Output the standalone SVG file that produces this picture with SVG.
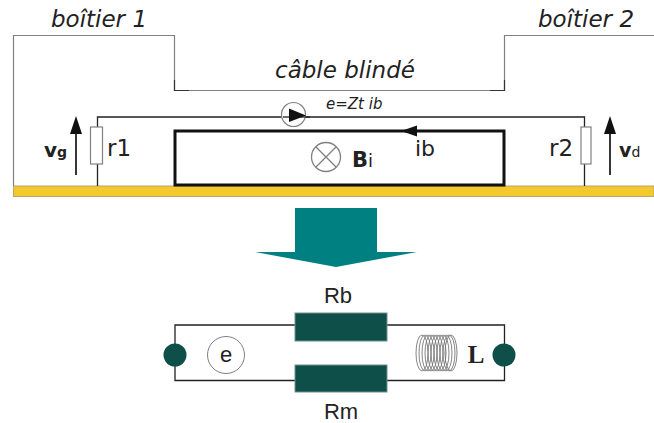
<svg xmlns="http://www.w3.org/2000/svg" width="654" height="423" viewBox="0 0 654 423">
<defs>
<style>
.thin{fill:none;stroke:#808080;stroke-width:1.2}
.w{fill:none;stroke:#222;stroke-width:1.3}
.res{fill:#fff;stroke:#808080;stroke-width:1.2}
.dark{fill:#0f4f49;stroke:#6f8f8c;stroke-width:1}
.dv{font-family:"DejaVu Sans",sans-serif;fill:#222}
.it{font-style:italic;font-size:23px}
.lib{font-family:"Liberation Sans",sans-serif;fill:#222;font-size:22px;text-anchor:middle}
.coil{fill:none;stroke:#777;stroke-width:.9}
</style>
</defs>
<rect width="654" height="423" fill="#fff"/>
<g id="ground"><rect x="13.500" y="186" width="640.500" height="10.500" fill="#f5c92e" stroke="#b5a66a" stroke-width="1"/></g>
<g id="boitier-1"><path class="thin" d="M13.500 186V35.500H174.500V90.500H330"/><path d="M174.500 80V90.500H189" fill="none" stroke="#333" stroke-width="1.200"/><text class="dv it" x="51" y="27">boîtier 1</text></g>
<g id="boitier-2"><path class="thin" d="M654 35.500H504.500V90.500H330"/><path d="M504.500 80V90.500H490" fill="none" stroke="#333" stroke-width="1.200"/><text class="dv it" x="538" y="27">boîtier 2</text></g>
<g id="cable-label"><text class="dv it" x="275" y="78">câble blindé</text></g>
<g id="connectors">
<path class="w" d="M97.500 186V117H584.500V186"/>
<path d="M175 131H504V185H175Z" fill="none" stroke="#111" stroke-width="3"/>
<path d="M401 131L417 125.500V136.500Z" fill="#111"/>
<path d="M76 175V132" stroke="#222" stroke-width="1.800"/><path d="M76 116L82 134H70Z" fill="#111"/>
<path d="M610 175V132" stroke="#222" stroke-width="1.800"/><path d="M610 116L616 134H604Z" fill="#111"/>
<path class="w" d="M295 325H175V380.500H295M387 325H504.500V380.500H387"/>
</g>
<g id="r1"><rect class="res" x="90.500" y="127" width="12" height="37"/><text class="dv" x="107" y="156" font-size="23">r1</text></g>
<g id="r2"><rect class="res" x="581" y="127" width="10" height="37"/><text class="dv" x="549" y="156" font-size="23">r2</text></g>
<g id="vg"><text class="dv" x="44" y="157" font-weight="bold" font-size="20">v<tspan font-size="14">g</tspan></text></g>
<g id="vd"><text class="dv" x="619" y="157" font-weight="bold" font-size="19">v<tspan font-size="14" font-weight="normal">d</tspan></text></g>
<g id="source-e"><circle cx="293.500" cy="114.500" r="12" fill="#fff" stroke="#808080" stroke-width="1.200"/><path d="M283 117H310" stroke="#222" stroke-width="1.300" fill="none"/><path d="M289 108.500L306 115.500L289 122Z" fill="#111"/><text class="dv" x="326" y="109" font-style="italic" font-size="15">e=Zt ib</text></g>
<g id="ib"><text class="dv" x="415" y="156" font-size="22">ib</text></g>
<g id="bi"><circle cx="326" cy="157" r="14.500" fill="#fff" stroke="#808080" stroke-width="1.300"/><path d="M316 147L336 167M336 147L316 167" stroke="#808080" stroke-width="1.300"/><text class="dv" x="352" y="167" font-size="21"><tspan font-weight="bold">B</tspan><tspan font-size="18">i</tspan></text></g>
<g id="big-arrow"><path d="M295 208H377V252H417L336 267L255 252H295Z" fill="#008080"/></g>
<g id="rb"><rect class="dark" x="295" y="313" width="92" height="28"/><text class="lib" x="338" y="303">Rb</text></g>
<g id="rm"><rect class="dark" x="295" y="365" width="92" height="27"/><text class="lib" x="341" y="419">Rm</text></g>
<g id="term-l"><circle cx="175" cy="355" r="11.500" fill="#0f4f49"/></g>
<g id="term-r"><circle cx="504" cy="355" r="11.500" fill="#0f4f49"/></g>
<g id="e"><circle cx="226" cy="355" r="18.500" fill="#fff" stroke="#808080" stroke-width="1"/><text class="lib" x="226" y="362">e</text></g>
<g id="L"><g class="coil"><ellipse cx="422" cy="353" rx="6" ry="18"/><ellipse cx="425" cy="353" rx="6" ry="18"/><ellipse cx="428" cy="353" rx="6" ry="18"/><ellipse cx="431" cy="353" rx="6" ry="18"/><ellipse cx="434" cy="353" rx="6" ry="18"/><ellipse cx="437" cy="353" rx="6" ry="18"/><ellipse cx="440" cy="353" rx="6" ry="18"/><ellipse cx="443" cy="353" rx="6" ry="18"/><ellipse cx="446" cy="353" rx="6" ry="18"/><ellipse cx="449" cy="353" rx="6" ry="18"/><ellipse cx="451" cy="353" rx="6" ry="18"/></g><text x="476" y="363" font-size="25" fill="#222" text-anchor="middle" font-weight="bold" style="font-family:'Liberation Serif',serif">L</text></g>
</svg>
